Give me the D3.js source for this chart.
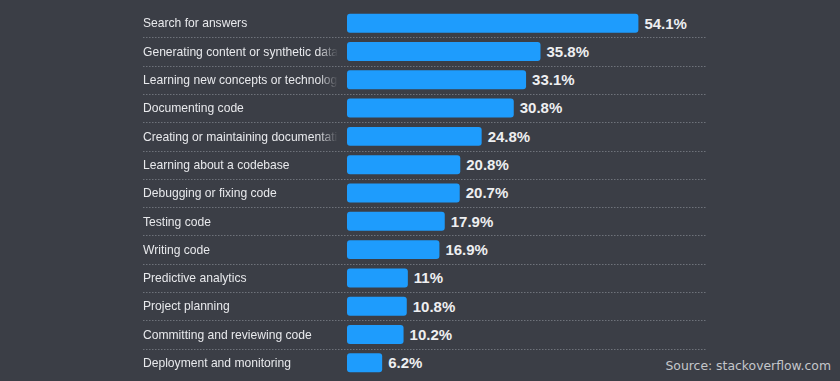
<!DOCTYPE html>
<html><head><meta charset="utf-8">
<script src="https://cdn.jsdelivr.net/npm/d3@7/dist/d3.min.js"></script>
<style>
html,body{margin:0;padding:0;background:#3b3e46;}
svg{display:block;}
</style></head>
<body>
<div id="chart"></div>
<script>
const categories = ["Search for answers","Generating content or synthetic data","Learning new concepts or technologies","Documenting code","Creating or maintaining documentation","Learning about a codebase","Debugging or fixing code","Testing code","Writing code","Predictive analytics","Project planning","Committing and reviewing code","Deployment and monitoring"];
const values = [54.1,35.8,33.1,30.8,24.8,20.8,20.7,17.9,16.9,11,10.8,10.2,6.2];
const valueLabels = ["54.1%","35.8%","33.1%","30.8%","24.8%","20.8%","20.7%","17.9%","16.9%","11%","10.8%","10.2%","6.2%"];

const W=840,H=381;
const svg=d3.select("#chart").append("svg").attr("width",W).attr("height",H);
svg.append("rect").attr("width",W).attr("height",H).attr("fill","#3b3e46");

const x=d3.scaleLinear().domain([0,54.1]).range([349,638.4]);
const y=d3.scaleBand().domain(categories).range([9,377]).paddingInner(0.33).paddingOuter(0.165);
const step=y.step();

const defs=svg.append("defs");
const grad=defs.append("linearGradient").attr("id","fade").attr("gradientUnits","userSpaceOnUse")
  .attr("x1",143).attr("x2",338).attr("y1",0).attr("y2",0);
grad.append("stop").attr("offset","0.9").attr("stop-color","#fff");
grad.append("stop").attr("offset","1").attr("stop-color","#000");
defs.append("mask").attr("id","m").append("rect").attr("x",0).attr("y",0).attr("width",338).attr("height",H).attr("fill","url(#fade)");

// separators
svg.append("g").selectAll("line").data(categories.slice(0,-1)).join("line")
  .attr("x1",143).attr("x2",707)
  .attr("y1",d=>Math.round(y(d)+y.bandwidth()/2+step/2)+0.5)
  .attr("y2",d=>Math.round(y(d)+y.bandwidth()/2+step/2)+0.5)
  .attr("stroke","#6e727a").attr("stroke-width",1).attr("stroke-dasharray","1.5,1.5");

// labels
svg.append("g").attr("mask","url(#m)").selectAll("text").data(categories).join("text")
  .attr("x",143).attr("y",d=>y(d)+y.bandwidth()/2)
  .attr("dy","0.35em")
  .attr("fill","#e8e9ec").attr("font-family","Liberation Sans, Arial, sans-serif").attr("font-size",12.1)
  .text(d=>d);

// bars
svg.append("g").selectAll("rect").data(values).join("rect")
  .attr("x",x(0)-2).attr("y",(d,i)=>y(categories[i]))
  .attr("width",d=>x(d)-x(0)+2).attr("height",y.bandwidth())
  .attr("rx",3).attr("fill","#1e9cfd");

// value labels
svg.append("g").selectAll("text").data(values).join("text")
  .attr("x",d=>x(d)+6).attr("y",(d,i)=>y(categories[i])+y.bandwidth()/2)
  .attr("dy","0.36em")
  .attr("fill","#eeeff1").attr("font-family","Liberation Sans, Arial, sans-serif").attr("font-weight","bold").attr("font-size",15)
  .text((d,i)=>valueLabels[i]);

svg.append("text").attr("x",831).attr("y",370).attr("text-anchor","end")
  .attr("fill","#c4c6ca").attr("font-family","DejaVu Sans, sans-serif").attr("font-size",12.4)
  .text("Source: stackoverflow.com");
</script>
</body></html>
